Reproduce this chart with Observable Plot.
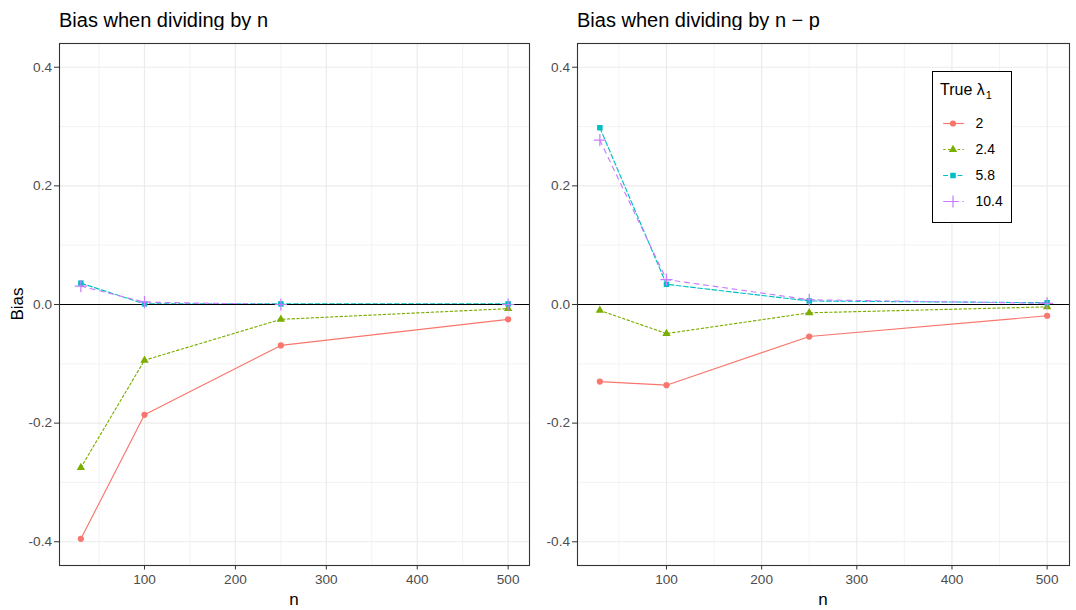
<!DOCTYPE html>
<html><head><meta charset="utf-8">
<script src="https://cdn.jsdelivr.net/npm/d3@7"></script>
<script src="https://cdn.jsdelivr.net/npm/@observablehq/plot@0.6"></script>
<style>
body{margin:0;background:#fff;font-family:"Liberation Sans",Arial,sans-serif;}
#root{position:relative;width:1076px;height:610px;overflow:hidden;background:#fff;}
.abs{position:absolute;}
.title{font-size:20px;line-height:20px;color:#000;white-space:nowrap;}
.axt{font-size:17px;line-height:17px;color:#000;white-space:nowrap;transform:translate(-50%,-50%);}
#legendBox{border:1px solid #000;background:#fff;}
#legendTitle{font-size:16px;line-height:16px;color:#000;white-space:nowrap;}
</style></head><body>
<div id="root">
  <div class="abs title" style="left:59px;top:10px">Bias when dividing by n</div>
  <div class="abs title" style="left:577px;top:10px">Bias when dividing by n − p</div>
  <div id="left" class="abs" style="left:0;top:30px"></div>
  <div id="right" class="abs" style="left:538px;top:30px"></div>
  <div class="abs axt" style="left:17px;top:304px;transform:translate(-50%,-50%) rotate(-90deg)">Bias</div>
  <div class="abs axt" style="left:294px;top:599px">n</div>
  <div class="abs axt" style="left:823px;top:599px">n</div>
  <div id="legendBox" class="abs" style="left:932px;top:71px;width:78px;height:150px"></div>
  <div id="legendTitle" class="abs" style="left:940px;top:82px">True λ<span style="font-size:11px;position:relative;top:4px;left:1px">1</span></div>
  <div id="legend" class="abs" style="left:932px;top:108px"></div>
</div>
<script>
// ---- data ----
const nValues = [30, 100, 250, 500];
const lambdaLabels = ["2", "2.4", "5.8", "10.4"];
// Bias when dividing by n
const biasDivN_2   = [-0.395, -0.186, -0.069, -0.025];
const biasDivN_24  = [-0.275, -0.094, -0.025, -0.007];
const biasDivN_58  = [0.036, 0.001, 0.001, 0.001];
const biasDivN_104 = [0.031, 0.004, 0.000, 0.000];
// Bias when dividing by n - p
const biasDivNP_2   = [-0.130, -0.136, -0.054, -0.019];
const biasDivNP_24  = [-0.010, -0.049, -0.014, -0.004];
const biasDivNP_58  = [0.298, 0.034, 0.006, 0.003];
const biasDivNP_104 = [0.277, 0.042, 0.008, 0.002];
// ticks
const xTicks = [100, 200, 300, 400, 500];
const xMinor = [50, 150, 250, 350, 450];
const yTicks = [-0.4, -0.2, 0, 0.2, 0.4];
const yMinor = [-0.3, -0.1, 0.1, 0.3];

// ---- styles ----
const colors = ["#F8766D", "#7CAE00", "#00BFC4", "#C77CFF"];
const symbols = ["circle", "triangle", "square", "plus"];
const dashes = [undefined, "2.4,2.4", "4.8,2.4", "4.8,4.8"];
const FONT = '"Liberation Sans", Arial, sans-serif';

function toRows(series) {
  return lambdaLabels.flatMap((l, i) => nValues.map((n, j) => ({n, lambda: l, bias: series[i][j]})));
}

function seriesDots(data, i, x, y) {
  const isPlus = symbols[i] === "plus";
  return Plot.dot(data, {
    x, y, symbol: () => symbols[i],
    fill: isPlus ? "none" : colors[i],
    stroke: isPlus ? colors[i] : "none",
    strokeWidth: 1.2,
    r: isPlus ? 4 : 3.1
  });
}

function panel(series, width, marginLeft, marginRight) {
  const rows = toRows(series);
  return Plot.plot({
    width, height: 580,
    marginTop: 13, marginBottom: 45, marginLeft, marginRight,
    style: {fontFamily: FONT, fontSize: "13.6px", color: "#4d4d4d", background: "white", overflow: "visible"},
    x: {domain: [6.5, 523.5]},
    y: {domain: [-0.44, 0.44]},
    symbol: {type: "identity"},
    marks: [
      Plot.gridX(xMinor, {stroke: "#ebebeb", strokeOpacity: 1, strokeWidth: 0.6}),
      Plot.gridY(yMinor, {stroke: "#ebebeb", strokeOpacity: 1, strokeWidth: 0.6}),
      Plot.gridX(xTicks, {stroke: "#ebebeb", strokeOpacity: 1, strokeWidth: 1.2}),
      Plot.gridY(yTicks, {stroke: "#ebebeb", strokeOpacity: 1, strokeWidth: 1.2}),
      ...lambdaLabels.map((l, i) => Plot.line(rows.filter(d => d.lambda === l), {
        x: "n", y: "bias", stroke: colors[i], strokeWidth: 1.15, strokeDasharray: dashes[i]
      })),
      Plot.ruleY([0], {stroke: "#000", strokeWidth: 1.2}),
      ...lambdaLabels.map((l, i) => seriesDots(rows.filter(d => d.lambda === l), i, "n", "bias")),
      Plot.frame({stroke: "#333", strokeWidth: 1.1}),
      Plot.axisX({ticks: xTicks, tickFormat: d => String(d), tickSize: 4.5, tickPadding: 4, label: null, stroke: "#333", fill: "#4d4d4d"}),
      Plot.axisY({ticks: yTicks, tickFormat: d => d.toFixed(1), tickSize: 5, tickPadding: 2.5, label: null, stroke: "#333", fill: "#4d4d4d"})
    ]
  });
}

document.getElementById("left").append(
  panel([biasDivN_2, biasDivN_24, biasDivN_58, biasDivN_104], 538, 59, 9));
document.getElementById("right").append(
  panel([biasDivNP_2, biasDivNP_24, biasDivNP_58, biasDivNP_104], 538, 39, 7));

// ---- legend ----
const legendRows = lambdaLabels.map(l => ({lambda: l}));
const legendMarks = [
  ...lambdaLabels.map((l, i) => Plot.link([legendRows[i]], {
    x1: () => 10.7, x2: () => 31.3, y1: "lambda", y2: "lambda",
    stroke: colors[i], strokeWidth: 1.15, strokeDasharray: dashes[i]
  })),
  ...lambdaLabels.map((l, i) => seriesDots([legendRows[i]], i, () => 20.5, "lambda")),
  Plot.text(legendRows, {x: () => 43, y: "lambda", text: "lambda", textAnchor: "start", fill: "#000", fontSize: 14})
];
document.getElementById("legend").append(Plot.plot({
  width: 78, height: 110, margin: 0,
  style: {fontFamily: FONT, background: "transparent", overflow: "visible"},
  x: {type: "linear", domain: [0, 78], range: [0, 78], axis: null},
  y: {type: "point", domain: lambdaLabels, range: [14.5, 93.5], padding: 0, axis: null},
  symbol: {type: "identity"},
  marks: legendMarks
}));
</script>
</body></html>
